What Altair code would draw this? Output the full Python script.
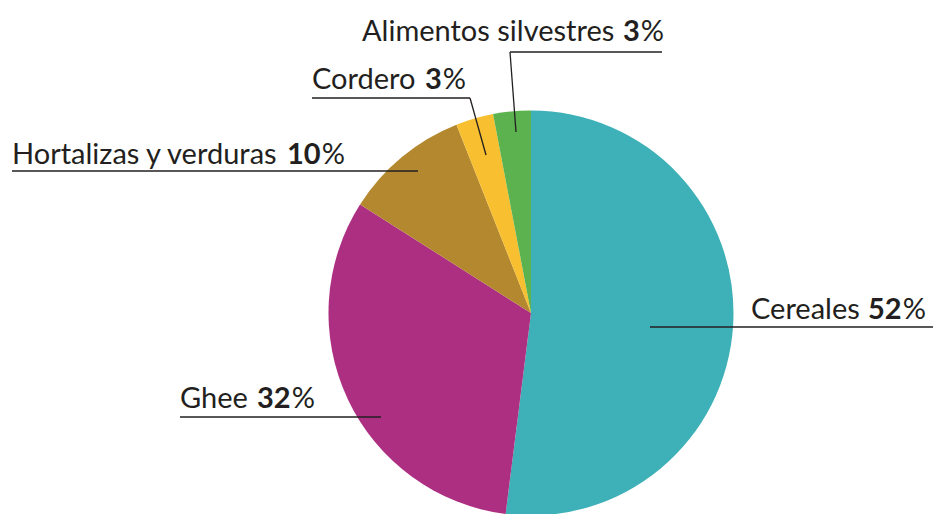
import altair as alt
import pandas as pd

# ---- data ----
categories = ["Cereales", "Ghee", "Hortalizas y verduras", "Cordero", "Alimentos silvestres"]
values = [52, 32, 10, 3, 3]
colors = ["#3EB0B7", "#AD2F82", "#B3882E", "#F8BF30", "#5CB24E"]

# ---- layout (page pixels minus the 8px margin) ----
M = 8
cx, cy, R = 531 - M, 313 - M, 202.5
name_x = [751, 180, 12, 312, 362]
num_x = [868, 257, 287, 425, 623]
base_y = [319, 408, 164, 89, 41]
DIGIT = 0.58  # bold digit advance, in em
# leader segments: (x1, y1, x2, y2)
segments = [
    (650, 327, 940, 327),
    (180, 417, 381, 417),
    (12, 171, 418, 171),
    (312, 98, 470, 98),
    (470, 98, 486, 155),
    (510, 52, 662, 52),
    (510, 52, 516, 132),
]

FONT = "Lato"
FS = 29
INK = "#231F20"

pie_df = pd.DataFrame({"cat": categories, "val": values, "idx": list(range(len(categories)))})

pie = alt.Chart(pie_df).mark_arc(radius=R, stroke=None).encode(
    theta=alt.Theta("val:Q", stack=True),
    order=alt.Order("idx:Q", sort="ascending"),
    color=alt.Color("cat:N", scale=alt.Scale(domain=categories, range=colors), legend=None),
    x=alt.value(cx),
    y=alt.value(cy),
)

nums = [str(v) for v in values]
lab_df = pd.DataFrame({
    "name": categories,
    "num": nums,
    "pct": ["%"] * len(values),
    "nx": [v - M for v in name_x],
    "mx": [v - M for v in num_x],
    "px": [v - M + DIGIT * FS * len(n) + 1 for v, n in zip(num_x, nums)],
    "by": [v - M for v in base_y],
})

name_t = alt.Chart(lab_df).mark_text(align="left", baseline="alphabetic", font=FONT, fontSize=FS, color=INK).encode(
    x=alt.X("nx:Q", scale=None), y=alt.Y("by:Q", scale=None), text="name:N")
num_t = alt.Chart(lab_df).mark_text(align="left", baseline="alphabetic", font=FONT, fontSize=FS, fontWeight="bold", color=INK).encode(
    x=alt.X("mx:Q", scale=None), y=alt.Y("by:Q", scale=None), text="num:N")
pct_t = alt.Chart(lab_df).mark_text(align="left", baseline="alphabetic", font=FONT, fontSize=FS, color=INK).encode(
    x=alt.X("px:Q", scale=None), y=alt.Y("by:Q", scale=None), text="pct:N")

seg_df = pd.DataFrame(segments, columns=["x1", "y1", "x2", "y2"]) - M
lines = alt.Chart(seg_df).mark_rule(color=INK, strokeWidth=1.3).encode(
    x=alt.X("x1:Q", scale=None), y=alt.Y("y1:Q", scale=None),
    x2="x2:Q", y2="y2:Q")

chart = alt.layer(pie, lines, name_t, num_t, pct_t).properties(
    width=925, height=506, autosize="none", padding=0,
).configure_view(stroke=None)

chart.save("out.html", embed_options={"renderer": "svg", "actions": False})
